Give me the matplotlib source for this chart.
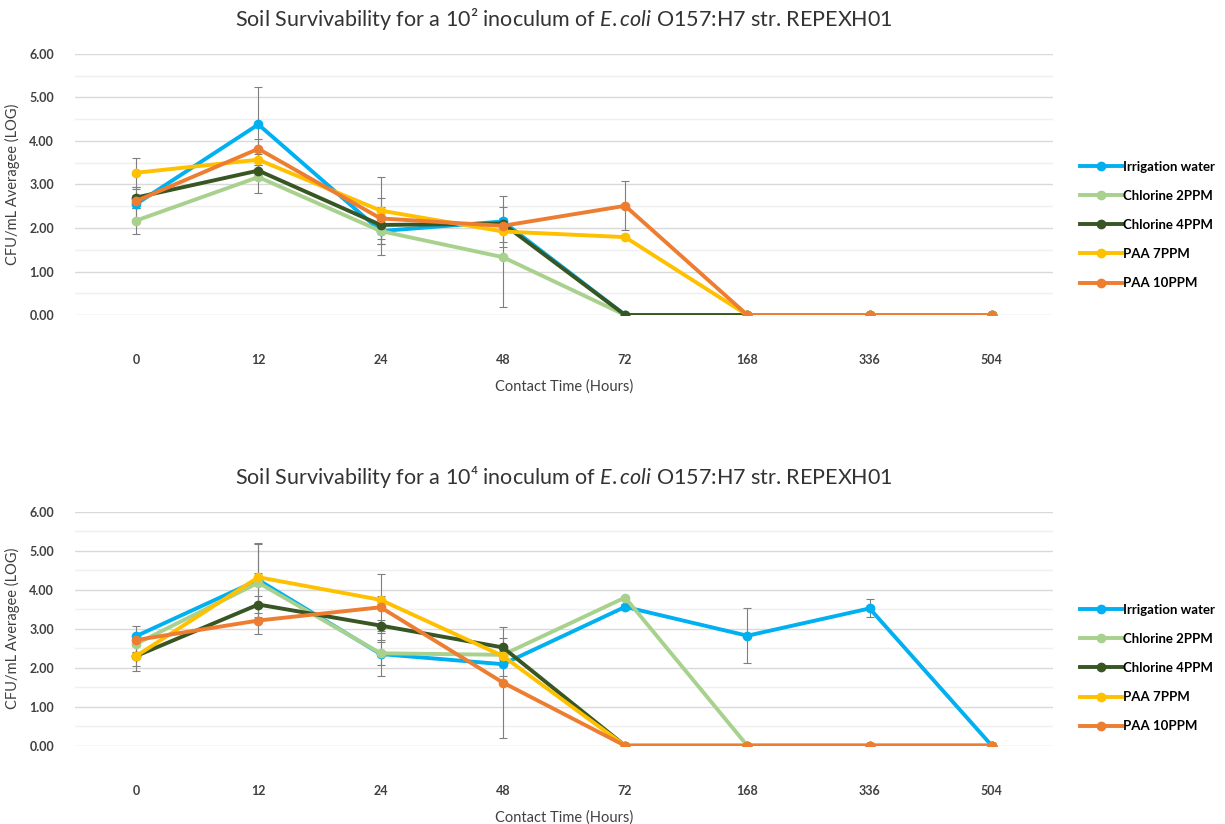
import matplotlib
matplotlib.use("Agg")
import matplotlib.pyplot as plt
import numpy as np

plt.rcParams['font.family'] = ['Lato', 'DejaVu Sans']
plt.rcParams['mathtext.fontset'] = 'custom'
plt.rcParams['mathtext.rm'] = 'Lato'
plt.rcParams['mathtext.it'] = 'Lato:italic'

hours = ["0", "12", "24", "48", "72", "168", "336", "504"]
series = ["Irrigation water", "Chlorine 2PPM", "Chlorine 4PPM", "PAA 7PPM", "PAA 10PPM"]
colors = ["#00B0F0", "#A9D18E", "#375623", "#FFC000", "#ED7D31"]

# 10^2 inoculum
irr_2 = [2.55, 4.38, 1.93, 2.15, 0, 0, 0, 0]
cl2_2 = [2.17, 3.17, 1.93, 1.33, 0, 0, 0, 0]
cl4_2 = [2.70, 3.32, 2.07, 2.10, 0, 0, 0, 0]
paa7_2 = [3.27, 3.57, 2.40, 1.92, 1.79, 0, 0, 0]
paa10_2 = [2.62, 3.82, 2.22, 2.05, 2.51, 0, 0, 0]

irr_2_err = [0.35, 0.87, 0.55, 0.58, 0, 0, 0, 0]
cl2_2_err = [0.30, 0.37, 0.30, 1.15, 0, 0, 0, 0]
cl4_2_err = [0.25, 0.12, 0.12, 0.12, 0, 0, 0, 0]
paa7_2_err = [0.33, 0.12, 0.77, 0.25, 0, 0, 0, 0]
paa10_2_err = [0.15, 0.23, 0.48, 0.12, 0.56, 0, 0, 0]

# 10^4 inoculum
irr_4 = [2.81, 4.25, 2.35, 2.09, 3.56, 2.82, 3.52, 0]
cl2_4 = [2.61, 4.18, 2.37, 2.33, 3.80, 0, 0, 0]
cl4_4 = [2.30, 3.62, 3.08, 2.52, 0, 0, 0, 0]
paa7_4 = [2.30, 4.32, 3.74, 2.30, 0, 0, 0, 0]
paa10_4 = [2.71, 3.21, 3.55, 1.62, 0, 0, 0, 0]

irr_4_err = [0.25, 0.95, 0.55, 0.30, 0.08, 0.71, 0.23, 0]
cl2_4_err = [0.20, 1.00, 0.30, 0.10, 0, 0, 0, 0]
cl4_4_err = [0.38, 0.22, 0.15, 0.25, 0, 0, 0, 0]
paa7_4_err = [0.25, 0.10, 0.10, 0.10, 0, 0, 0, 0]
paa10_4_err = [0.10, 0.35, 0.85, 1.42, 0, 0, 0, 0]

top_vals = [irr_2, cl2_2, cl4_2, paa7_2, paa10_2]
top_errs = [irr_2_err, cl2_2_err, cl4_2_err, paa7_2_err, paa10_2_err]
bot_vals = [irr_4, cl2_4, cl4_4, paa7_4, paa10_4]
bot_errs = [irr_4_err, cl2_4_err, cl4_4_err, paa7_4_err, paa10_4_err]

fig = plt.figure(figsize=(12.25, 8.24), dpi=100)
ax1 = fig.add_axes([0.0612, 0.6177, 0.7984, 0.3168])
ax2 = fig.add_axes([0.0612, 0.0950, 0.7984, 0.2840])


def draw(ax, vals, errs, title, leg_y):
    x = np.arange(len(hours))
    for name, c, v, e in zip(series, colors, vals, errs):
        e = np.array(e)
        ax.errorbar(x, v, yerr=np.where(e > 0, e, np.nan), fmt='none',
                    ecolor='#7f7f7f', elinewidth=0.8, capsize=3, capthick=0.8, zorder=2)
        ax.plot(x, v, color=c, lw=2.8, marker='o', ms=6, label=name, zorder=3)
    ax.set_xlim(-0.5, len(hours) - 0.5)
    ax.set_ylim(0, 6)
    ax.set_xticks(x)
    ax.set_xticklabels(hours, fontsize=9, fontweight='bold', color='#404040')
    ax.set_yticks(np.arange(0, 7))
    ax.set_yticklabels([f"{t:.2f}" for t in range(7)], fontsize=9,
                       fontweight='bold', color='#404040')
    ax.set_yticks(np.arange(0.5, 6, 1), minor=True)
    ax.grid(True, which='major', axis='y', color='#d9d9d9', lw=1)
    ax.grid(True, which='minor', axis='y', color='#efefef', lw=1)
    ax.tick_params(length=0, which='both', pad=15)
    ax.tick_params(axis='x', pad=28)
    for s in ax.spines.values():
        s.set_visible(False)
    ax.set_axisbelow(True)
    ax.set_xlabel("Contact Time (Hours)", fontsize=10.5, color='#404040', labelpad=10)
    ax.set_ylabel("CFU/mL Averagee (LOG)", fontsize=10.5, color='#404040')
    ax.yaxis.set_label_coords(-0.056, 0.5)
    ax.set_title(title, fontsize=15.5, color='#333333', pad=20)
    ax.legend(loc='center left', bbox_to_anchor=(1.015, leg_y), frameon=False,
              handlelength=3.2, labelspacing=1.3, handletextpad=0.1,
              prop={'weight': 'bold', 'size': 9.5})


draw(ax1, top_vals, top_errs,
     "Soil Survivability for a 10\u00b2 inoculum of $\\mathit{E{.}coli}$ O157:H7 str. REPEXH01",
     0.345)
draw(ax2, bot_vals, bot_errs,
     "Soil Survivability for a 10\u2074 inoculum of $\\mathit{E{.}coli}$ O157:H7 str. REPEXH01",
     0.332)

fig.savefig("out.png", dpi=100)
